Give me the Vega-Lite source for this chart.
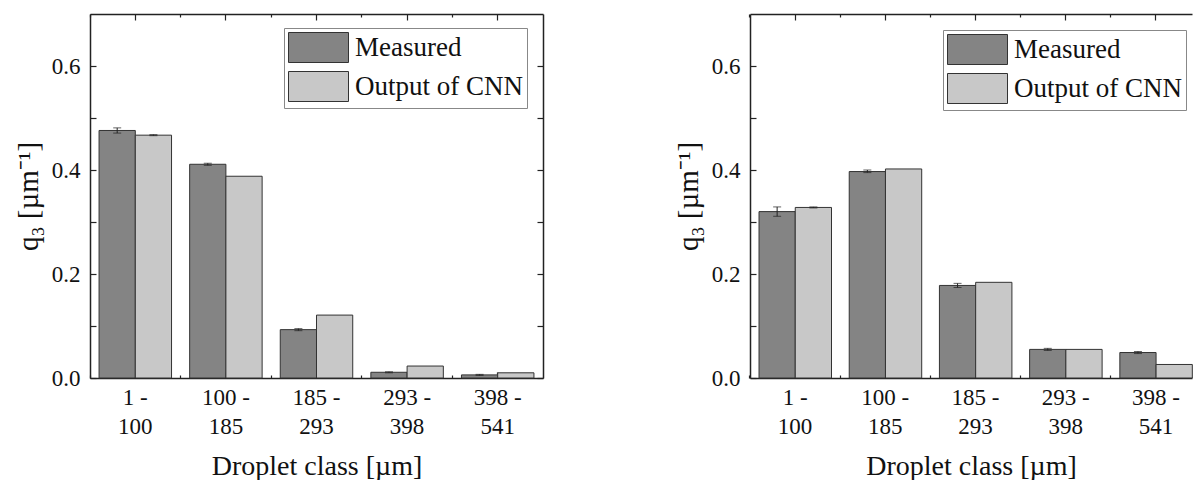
{
  "$schema": "https://vega.github.io/schema/vega-lite/v6.json",
  "padding": {"left": 14, "top": 13, "right": 0, "bottom": 0},
  "background": "white",
  "config": {
    "font": "Liberation Serif",
    "view": {"stroke": null},
    "concat": {"spacing": 130},
    "axis": {
      "domainColor": "#222", "domainWidth": 1.5, "tickColor": "#222", "tickWidth": 1.2,
      "labelColor": "#111", "titleColor": "#111", "labelFont": "Liberation Serif", "titleFont": "Liberation Serif",
      "titleFontWeight": "normal", "grid": false
    }
  },
  "datasets": {
    "left": [
      {"cls": "1 - 100", "series": "Measured", "q3": 0.476, "lo": 0.471, "hi": 0.481},
      {"cls": "1 - 100", "series": "Output of CNN", "q3": 0.467, "lo": 0.466, "hi": 0.468},
      {"cls": "100 - 185", "series": "Measured", "q3": 0.411, "lo": 0.409, "hi": 0.413},
      {"cls": "100 - 185", "series": "Output of CNN", "q3": 0.388, "lo": null, "hi": null},
      {"cls": "185 - 293", "series": "Measured", "q3": 0.093, "lo": 0.091, "hi": 0.095},
      {"cls": "185 - 293", "series": "Output of CNN", "q3": 0.121, "lo": null, "hi": null},
      {"cls": "293 - 398", "series": "Measured", "q3": 0.011, "lo": 0.010, "hi": 0.012},
      {"cls": "293 - 398", "series": "Output of CNN", "q3": 0.023, "lo": null, "hi": null},
      {"cls": "398 - 541", "series": "Measured", "q3": 0.006, "lo": 0.005, "hi": 0.007},
      {"cls": "398 - 541", "series": "Output of CNN", "q3": 0.010, "lo": null, "hi": null}
    ],
    "right": [
      {"cls": "1 - 100", "series": "Measured", "q3": 0.320, "lo": 0.311, "hi": 0.329},
      {"cls": "1 - 100", "series": "Output of CNN", "q3": 0.328, "lo": 0.327, "hi": 0.329},
      {"cls": "100 - 185", "series": "Measured", "q3": 0.397, "lo": 0.395, "hi": 0.400},
      {"cls": "100 - 185", "series": "Output of CNN", "q3": 0.402, "lo": null, "hi": null},
      {"cls": "185 - 293", "series": "Measured", "q3": 0.178, "lo": 0.174, "hi": 0.182},
      {"cls": "185 - 293", "series": "Output of CNN", "q3": 0.184, "lo": null, "hi": null},
      {"cls": "293 - 398", "series": "Measured", "q3": 0.055, "lo": 0.053, "hi": 0.057},
      {"cls": "293 - 398", "series": "Output of CNN", "q3": 0.055, "lo": null, "hi": null},
      {"cls": "398 - 541", "series": "Measured", "q3": 0.049, "lo": 0.047, "hi": 0.051},
      {"cls": "398 - 541", "series": "Output of CNN", "q3": 0.026, "lo": null, "hi": null}
    ]
  },
  "resolve": {"scale": {"color": "independent"}},
  "hconcat": [
    {
      "width": 453, "height": 364,
      "data": {"name": "left"},
      "resolve": {"axis": {"x": "independent", "y": "independent"}},
      "layer": [
        {
          "mark": {"type": "bar", "stroke": "#333", "strokeWidth": 1},
          "encoding": {
            "x": {"field": "cls", "type": "nominal", "sort": null,
              "scale": {"paddingInner": 0.2, "paddingOuter": 0.1},
              "axis": {"orient": "bottom", "title": "Droplet class [µm]", "titleFontSize": 28, "titlePadding": 14,
                "labelFontSize": 23, "labelAngle": 0, "labelLineHeight": 29, "labelPadding": 14, "tickSize": -6,
                "labelExpr": "[split(datum.label, ' - ')[0] + ' -', split(datum.label, ' - ')[1]]"}},
            "xOffset": {"field": "series", "type": "nominal", "scale": {"paddingInner": 0, "paddingOuter": 0}},
            "y": {"field": "q3", "type": "quantitative", "scale": {"domain": [0, 0.7], "nice": false},
              "axis": {"orient": "left", "values": [0, 0.1, 0.2, 0.3, 0.4, 0.5, 0.6], "tickSize": -6,
                "labelExpr": "round(datum.value*10) % 2 == 0 ? format(datum.value, '.1f') : ''",
                "labelFontSize": 23, "labelPadding": 16, "title": "q₃ [µm⁻¹]", "titleFontSize": 29, "titlePadding": 8}},
            "color": {"field": "series", "type": "nominal",
              "scale": {"domain": ["Measured", "Output of CNN"], "range": ["#848484", "#c8c8c8"]},
              "legend": {"orient": "none", "legendX": 194, "legendY": 14, "title": null,
                "symbolType": "M-1,-1H3V1H-1Z", "symbolSize": 900, "symbolStrokeColor": "#333", "symbolStrokeWidth": 1,
                "symbolOpacity": 1, "labelFontSize": 27, "labelFont": "Liberation Serif", "labelColor": "#111", "labelLimit": 400,
                "labelOffset": 36, "rowPadding": 4, "padding": 4, "strokeColor": "#888", "fillColor": "white"}}
          }
        },
        {
          "transform": [{"filter": "datum.lo != null"}],
          "mark": {"type": "rule", "color": "#222", "strokeWidth": 1},
          "encoding": {
            "x": {"field": "cls", "type": "nominal", "sort": null,
              "axis": {"orient": "top", "labels": false, "title": null, "tickSize": -6}},
            "xOffset": {"field": "series", "type": "nominal"},
            "y": {"field": "lo", "type": "quantitative",
              "axis": {"orient": "right", "values": [0, 0.1, 0.2, 0.3, 0.4, 0.5, 0.6], "labels": false, "title": null, "tickSize": -6}},
            "y2": {"field": "hi"}
          }
        },
        {
          "transform": [{"filter": "datum.lo != null"}],
          "mark": {"type": "tick", "color": "#222", "thickness": 1, "size": 8},
          "encoding": {
            "x": {"field": "cls", "type": "nominal", "sort": null,
              "axis": {"orient": "bottom", "labels": false, "domain": false, "title": null, "tickSize": -3, "bandPosition": -0.125}},
            "xOffset": {"field": "series", "type": "nominal"},
            "y": {"field": "lo", "type": "quantitative", "axis": null}
          }
        },
        {
          "transform": [{"filter": "datum.lo != null"}],
          "mark": {"type": "tick", "color": "#222", "thickness": 1, "size": 8},
          "encoding": {
            "x": {"field": "cls", "type": "nominal", "sort": null,
              "axis": {"orient": "top", "labels": false, "domain": false, "title": null, "tickSize": -3, "bandPosition": -0.125}},
            "xOffset": {"field": "series", "type": "nominal"},
            "y": {"field": "hi", "type": "quantitative", "axis": null}
          }
        }
      ]
    },
    {
      "width": 442, "height": 364,
      "data": {"name": "right"},
      "resolve": {"axis": {"x": "independent", "y": "independent"}},
      "layer": [
        {
          "mark": {"type": "bar", "stroke": "#333", "strokeWidth": 1},
          "encoding": {
            "x": {"field": "cls", "type": "nominal", "sort": null,
              "scale": {"paddingInner": 0.2, "paddingOuter": 0.05, "align": 1},
              "axis": {"orient": "bottom", "title": "Droplet class [µm]", "titleFontSize": 28, "titlePadding": 14,
                "labelFontSize": 23, "labelAngle": 0, "labelLineHeight": 29, "labelPadding": 14, "tickSize": -6,
                "labelExpr": "[split(datum.label, ' - ')[0] + ' -', split(datum.label, ' - ')[1]]"}},
            "xOffset": {"field": "series", "type": "nominal", "scale": {"paddingInner": 0, "paddingOuter": 0}},
            "y": {"field": "q3", "type": "quantitative", "scale": {"domain": [0, 0.7], "nice": false},
              "axis": {"orient": "left", "values": [0, 0.1, 0.2, 0.3, 0.4, 0.5, 0.6], "tickSize": -6,
                "labelExpr": "round(datum.value*10) % 2 == 0 ? format(datum.value, '.1f') : ''",
                "labelFontSize": 23, "labelPadding": 16, "title": "q₃ [µm⁻¹]", "titleFontSize": 29, "titlePadding": 8}},
            "color": {"field": "series", "type": "nominal",
              "scale": {"domain": ["Measured", "Output of CNN"], "range": ["#848484", "#c8c8c8"]},
              "legend": {"orient": "none", "legendX": 193, "legendY": 16, "title": null,
                "symbolType": "M-1,-1H3V1H-1Z", "symbolSize": 900, "symbolStrokeColor": "#333", "symbolStrokeWidth": 1,
                "symbolOpacity": 1, "labelFontSize": 27, "labelFont": "Liberation Serif", "labelColor": "#111", "labelLimit": 400,
                "labelOffset": 36, "rowPadding": 4, "padding": 4, "strokeColor": "#888", "fillColor": "white"}}
          }
        },
        {
          "transform": [{"filter": "datum.lo != null"}],
          "mark": {"type": "rule", "color": "#222", "strokeWidth": 1},
          "encoding": {
            "x": {"field": "cls", "type": "nominal", "sort": null,
              "axis": {"orient": "top", "labels": false, "title": null, "tickSize": -6}},
            "xOffset": {"field": "series", "type": "nominal"},
            "y": {"field": "lo", "type": "quantitative", "axis": null},
            "y2": {"field": "hi"}
          }
        },
        {
          "transform": [{"filter": "datum.lo != null"}],
          "mark": {"type": "tick", "color": "#222", "thickness": 1, "size": 8},
          "encoding": {
            "x": {"field": "cls", "type": "nominal", "sort": null,
              "axis": {"orient": "bottom", "labels": false, "domain": false, "title": null, "tickSize": -3, "bandPosition": -0.125}},
            "xOffset": {"field": "series", "type": "nominal"},
            "y": {"field": "lo", "type": "quantitative", "axis": null}
          }
        },
        {
          "transform": [{"filter": "datum.lo != null"}],
          "mark": {"type": "tick", "color": "#222", "thickness": 1, "size": 8},
          "encoding": {
            "x": {"field": "cls", "type": "nominal", "sort": null,
              "axis": {"orient": "top", "labels": false, "domain": false, "title": null, "tickSize": -3, "bandPosition": -0.125}},
            "xOffset": {"field": "series", "type": "nominal"},
            "y": {"field": "hi", "type": "quantitative", "axis": null}
          }
        }
      ]
    }
  ]
}
